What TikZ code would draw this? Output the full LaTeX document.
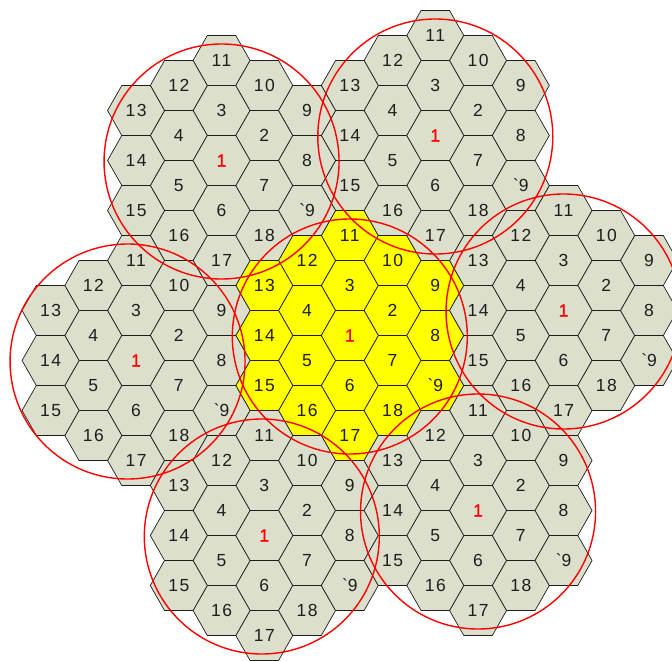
\documentclass[tikz,border=0pt]{standalone}
\usepackage{fontspec}
\setmainfont{Liberation Sans}[LetterSpace=9]
\newfontfamily\onefont{Liberation Sans}[LetterSpace=9, FakeBold=1.2]
\definecolor{CellGrey}{HTML}{DCDFCB}
\definecolor{CellYellow}{HTML}{FFFF00}
\definecolor{RingRed}{HTML}{FF0000}
\definecolor{EdgeGrey}{HTML}{1E1E1E}
\usetikzlibrary{calc}

% one 19-cell cluster: name, centre x, centre y, fill
\newcommand{\cellcluster}[4]{%
  \foreach \c/\r/\lab [count=\i] in {0/-2/11, 0/-1/3, 0/1/6, 0/2/17,
      -1/-1.5/12, -1/-0.5/4, -1/0.5/5, -1/1.5/16,
      1/-1.5/10, 1/-0.5/2, 1/0.5/7, 1/1.5/18,
      -2/-1/13, -2/0/14, -2/1/15,
      2/-1/9, 2/0/8, 2/1/{\textasciigrave9}}{
    \draw[hexcell, fill=#4] ({#2+\c*42.75},{#3+\r*50}) ++(-28.5,0)
      -- ++(14.25,-25) -- ++(28.5,0) -- ++(14.25,25)
      -- ++(-14.25,25) -- ++(-28.5,0) -- cycle;
    \node[cellnum] (#1-\i) at ({#2+\c*42.75},{#3+\r*50}) {\lab};
  }
  \draw[hexcell, fill=#4] (#2,#3) ++(-28.5,0)
    -- ++(14.25,-25) -- ++(28.5,0) -- ++(14.25,25)
    -- ++(-14.25,25) -- ++(-28.5,0) -- cycle;
  \node[cellnum, text=RingRed] (#1-c) at (#2,#3) {\onefont 1};
}

\begin{document}
\begin{tikzpicture}[x=1pt, y=-1pt,
    hexcell/.style={draw=EdgeGrey, line width=0.7pt, line join=miter},
    cellnum/.style={inner sep=0pt, text=EdgeGrey, font=\fontsize{17.5}{18}\selectfont},
    ring/.style={draw=RingRed, line width=1.4pt}]
  \useasboundingbox (0,0) rectangle (672,661);
  \clip (0,0) rectangle (672,661);
  % seven clusters, the middle one in yellow
  \foreach \nm/\cx/\cy/\fc in {mid/349.8/335.5/CellYellow,
      east/563.55/310.5/CellGrey, northeast/435.3/135.5/CellGrey,
      northwest/221.55/160.5/CellGrey, west/136.05/360.5/CellGrey,
      southwest/264.3/535.5/CellGrey, southeast/478.05/510.5/CellGrey}{
    \cellcluster{\nm}{\cx}{\cy}{\fc}
  }
  % reuse rings, the west one sits a little off its cluster
  \foreach \nm/\dx in {mid/0, east/0, northeast/0, northwest/0,
      west/-8.5, southwest/-2.5, southeast/0}
    \draw[ring] ($(\nm-c)+(\dx,1)$) circle[radius=117.5];
\end{tikzpicture}
\end{document}
